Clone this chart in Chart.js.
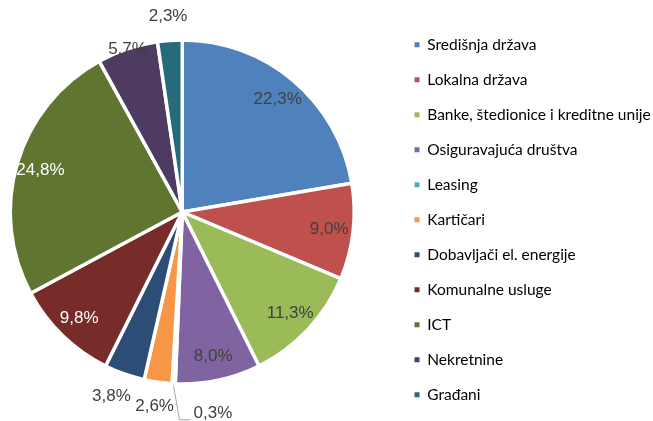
<!DOCTYPE html>
<html>
<head>
<meta charset="utf-8">
<script src="https://cdn.jsdelivr.net/npm/chart.js@4.4.1/dist/chart.umd.min.js"></script>
<style>
  html, body { margin: 0; padding: 0; background: #fff; }
  #wrap { width: 653px; height: 421px; }
</style>
</head>
<body>
<div id="wrap"><canvas id="myChart" width="653" height="421"></canvas></div>
<script>
const sectors = ['Središnja država', 'Lokalna država', 'Banke, štedionice i kreditne unije', 'Osiguravajuća društva', 'Leasing', 'Kartičari', 'Dobavljači el. energije', 'Komunalne usluge', 'ICT', 'Nekretnine', 'Građani'];
const shares = [22.3, 9.0, 11.3, 8.0, 0.3, 2.6, 3.8, 9.8, 24.8, 5.7, 2.3];
const colours = ['#4F81BD', '#C0504D', '#9BBB59', '#8064A2', '#4BACC6', '#F79646', '#2C4D75', '#772C2A', '#5F7530', '#4D3B62', '#276A7C'];

const isDark = (hex) => {
  const n = parseInt(hex.slice(1), 16);
  return 0.299 * (n >> 16) + 0.587 * ((n >> 8) & 255) + 0.114 * (n & 255) < 110;
};

// percentage labels, excel style: inside for big slices, outside for small ones
const sliceLabels = {
  id: 'sliceLabels',
  afterDatasetsDraw(chart) {
    const ctx = chart.ctx;
    const arcs = chart.getDatasetMeta(0).data;
    const placed = [];
    ctx.save();
    ctx.font = '17px "Liberation Sans", Arial, sans-serif';
    ctx.textBaseline = 'middle';
    arcs.forEach((arc, i) => {
      const { x, y, startAngle, endAngle, outerRadius } = arc.getProps(['x', 'y', 'startAngle', 'endAngle', 'outerRadius'], true);
      const mid = (startAngle + endAngle) / 2;
      const cos = Math.cos(mid);
      const sin = Math.sin(mid);
      const v = shares[i];
      const text = v.toFixed(1).replace('.', ',') + '%';
      const w = ctx.measureText(text).width;
      ctx.fillStyle = '#404040';
      ctx.textAlign = 'center';
      if (v >= 7) {
        if (isDark(colours[i])) ctx.fillStyle = '#ffffff';
        ctx.fillText(text, x + cos * outerRadius * 0.86, y + sin * outerRadius * 0.86);
      } else if (v >= 4) {
        ctx.fillText(text, x + cos * outerRadius, y + sin * outerRadius);
      } else if (v >= 1) {
        let tx = x + cos * (outerRadius + 24);
        const ty = y + sin * (outerRadius + 24);
        const dir = cos < 0 ? -1 : 1;
        while (placed.some(p => Math.abs(p.x - tx) < (p.w + w) / 2 + 4 && Math.abs(p.y - ty) < 18)) tx += dir;
        placed.push({ x: tx, y: ty, w: w });
        ctx.fillText(text, tx, ty);
      } else {
        const ex = x + cos * (outerRadius + 2);
        const ey = y + sin * (outerRadius + 2);
        ctx.strokeStyle = '#a6a6a6';
        ctx.lineWidth = 1;
        ctx.beginPath();
        ctx.moveTo(ex, ey);
        ctx.lineTo(ex + 6, ey + 34);
        ctx.lineTo(ex + 17, ey + 34);
        ctx.stroke();
        ctx.textAlign = 'left';
        ctx.fillText(text, ex + 20, ey + 28);
      }
    });
    ctx.restore();
  }
};

// move the legend column down/right a bit without moving the pie
const legendNudge = {
  id: 'legendNudge',
  afterLayout(chart) {
    chart.legend.top += 9.5;
    chart.legend.bottom += 9.5;
    chart.legend.left += 30.5;
    chart.legend.right += 30.5;
  }
};

const ctx = document.getElementById('myChart').getContext('2d');
const myChart = new Chart(ctx, {
  type: 'pie',
  data: {
    labels: sectors,
    datasets: [
      {
        data: shares,
        backgroundColor: colours,
        borderColor: '#ffffff',
        borderWidth: 3.5,
        radius: 172,
      },
    ],
  },
  options: {
    responsive: false,
    animation: false,
    events: [],
    layout: { padding: { left: 0, right: 22.75, top: 8, bottom: 5 } },
    plugins: {
      legend: {
        position: 'right',
        align: 'start',
        labels: {
          boxWidth: 5,
          boxHeight: 5,
          padding: 19.5,
          color: '#404040',
          font: { family: 'Lato', size: 15.5 },
          generateLabels: () => sectors.map((s, i) => ({
            text: s,
            fillStyle: colours[i],
            strokeStyle: colours[i],
            lineWidth: 0,
            hidden: false,
            index: i,
          })),
        },
      },
      tooltip: { enabled: false },
    },
  },
  plugins: [sliceLabels, legendNudge],
});
</script>
</body>
</html>
